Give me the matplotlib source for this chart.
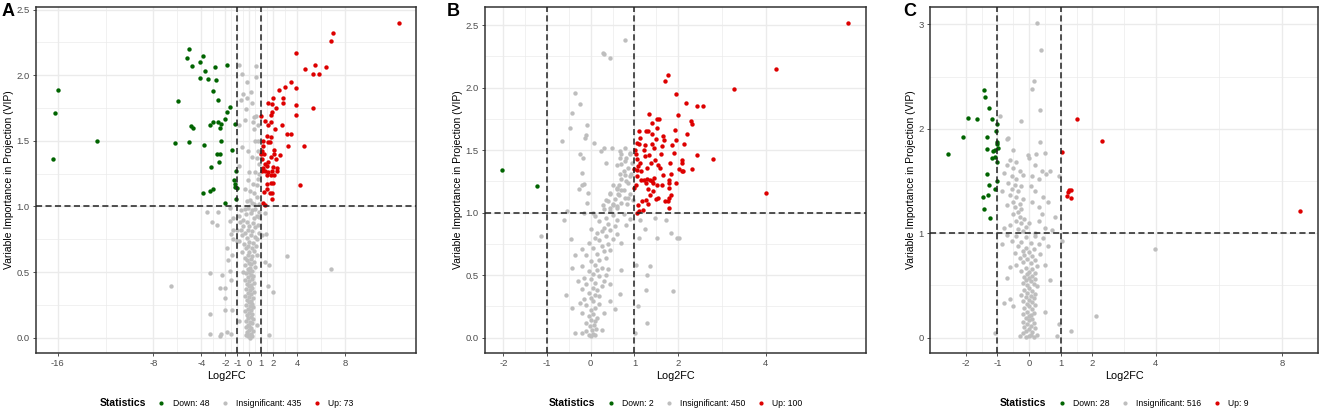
import matplotlib
matplotlib.use("Agg")
import matplotlib.pyplot as plt
from matplotlib.lines import Line2D
import numpy as np

plt.rcParams['font.family'] = ['Liberation Sans', 'DejaVu Sans']

# ---------------- data (Log2FC, VIP) ----------------
a_down = [(-16.0, 1.89), (-16.25, 1.71), (-16.4, 1.36), (-12.67, 1.50), (-5.06, 2.20), (-5.22, 2.13),
          (-3.83, 2.15), (-4.8, 2.07), (-4.14, 2.10), (-3.67, 2.03), (-2.89, 2.06), (-1.83, 2.08),
          (-4.08, 1.98), (-3.42, 1.97), (-2.78, 1.96), (-3.06, 1.88), (-5.92, 1.80), (-2.64, 1.81),
          (-1.61, 1.76), (-1.83, 1.72), (-2.03, 1.67), (-1.17, 1.63), (-4.86, 1.61), (-4.69, 1.60),
          (-3.28, 1.62), (-3.0, 1.64), (-2.64, 1.64), (-2.39, 1.63), (-2.42, 1.60), (-6.17, 1.48),
          (-5.03, 1.49), (-3.81, 1.47), (-2.39, 1.50), (-1.42, 1.43), (-2.69, 1.40), (-2.44, 1.40),
          (-2.5, 1.34), (-3.19, 1.30), (-1.11, 1.27), (-1.31, 1.20), (-1.19, 1.17), (-1.17, 1.15),
          (-1.06, 1.14), (-3.0, 1.13), (-3.31, 1.12), (-3.86, 1.10), (-1.11, 1.06), (-2.0, 1.03)]
a_up = [(12.47, 2.40), (7.0, 2.32), (6.83, 2.26), (3.92, 2.17), (5.44, 2.08), (4.61, 2.05), (6.36, 2.06),
        (5.33, 2.01), (5.83, 2.01), (3.5, 1.95), (2.97, 1.91), (2.44, 1.89), (3.86, 1.90), (2.0, 1.83),
        (2.81, 1.83), (2.78, 1.79), (1.58, 1.79), (1.86, 1.78), (2.25, 1.75), (3.92, 1.77), (5.33, 1.75),
        (1.89, 1.72), (1.78, 1.70), (1.0, 1.69), (3.89, 1.70), (1.33, 1.65), (1.83, 1.64), (1.56, 1.62),
        (2.69, 1.62), (2.11, 1.59), (1.5, 1.54), (1.83, 1.53), (1.17, 1.50), (3.17, 1.55), (3.5, 1.55),
        (1.53, 1.49), (1.75, 1.49), (1.17, 1.46), (3.22, 1.46), (4.53, 1.46), (1.08, 1.42), (2.06, 1.43),
        (1.0, 1.40), (1.25, 1.40), (2.08, 1.40), (1.81, 1.38), (2.56, 1.39), (1.08, 1.36), (2.22, 1.36),
        (1.58, 1.34), (1.28, 1.32), (1.44, 1.31), (1.11, 1.29), (1.94, 1.30), (2.28, 1.29), (2.28, 1.27),
        (1.06, 1.27), (1.33, 1.27), (1.56, 1.26), (1.86, 1.27), (1.5, 1.24), (1.83, 1.24), (2.08, 1.24),
        (1.47, 1.17), (1.81, 1.18), (2.0, 1.18), (4.19, 1.16), (1.22, 1.11), (1.47, 1.13), (1.75, 1.10),
        (1.89, 1.10), (1.92, 1.06), (1.14, 1.03), (1.33, 1.01)]
a_grey = [(-0.83, 2.08), (0.58, 2.07), (-0.64, 2.01), (0.53, 1.99), (-0.22, 1.95), (0.11, 1.87),
          (-0.5, 1.86), (-0.17, 1.83), (-0.72, 1.81), (0.19, 1.79), (-0.28, 1.74), (0.39, 1.68),
          (0.56, 1.69), (-0.36, 1.66), (-0.83, 1.62), (0.28, 1.64), (0.69, 1.62), (0.39, 1.59),
          (0.47, 1.50), (0.72, 1.50), (-0.58, 1.45), (-0.08, 1.42), (0.75, 1.42), (0.22, 1.38),
          (0.61, 1.37), (0.81, 1.32), (-0.83, 1.31), (-0.06, 1.26), (0.47, 1.26), (0.83, 1.25),
          (0.72, 1.21), (-0.11, 1.20), (0.33, 1.17), (0.61, 1.16), (-0.36, 1.13), (0.06, 1.12),
          (0.42, 1.10), (0.61, 1.07), (0.06, 1.05), (-0.22, 1.04), (0.19, 1.03), (0.39, 1.02), (0.78, 1.02),
          (-3.56, 0.96), (-2.58, 0.96), (-3.11, 0.88), (-2.67, 0.86), (-1.58, 0.99), (-6.53, 0.39),
          (-3.28, 0.49), (-2.31, 0.48), (-2.44, 0.38), (-2.03, 0.38), (-2.0, 0.30), (-3.25, 0.18),
          (-2.06, 0.21), (-1.47, 0.21), (-3.28, 0.03), (-2.44, 0.01), (-2.33, 0.03), (-1.86, 0.04),
          (-1.56, 0.03), (3.11, 0.62), (6.81, 0.52), (1.61, 0.55), (1.31, 0.58), (1.53, 0.39), (1.97, 0.35),
          (1.61, 0.02), (0.67, 0.10), (-1.47, 0.63), (-1.81, 0.59), (-1.61, 0.51), (-1.53, 0.44),
          (-1.33, 0.82), (-1.53, 0.79), (-1.0, 0.74), (-1.33, 0.75), (-1.89, 0.68), (-1.33, 0.91),
          (-1.61, 0.89), (-1.0, 0.82), (0.83, 0.92), (1.03, 0.78), (1.31, 0.95), (1.42, 0.79), (-0.89, 0.13),
          (-0.7, 0.97), (-0.4, 0.98), (-0.1, 0.99), (0.2, 0.97), (0.5, 0.98), (0.8, 0.96), (-0.9, 0.93),
          (-0.3, 0.94), (0.1, 0.95), (0.6, 0.93), (0.35, 0.91), (-0.55, 0.9), (-0.8, 0.88), (-0.2, 0.88),
          (0.3, 0.87), (0.7, 0.86), (-0.5, 0.85), (0.0, 0.85), (0.5, 0.84), (-0.7, 0.82), (-0.1, 0.82),
          (0.2, 0.81), (0.8, 0.8), (-0.35, 0.8), (-0.6, 0.78), (0.1, 0.78), (0.45, 0.77), (-0.2, 0.76),
          (0.65, 0.75), (-0.85, 0.74), (0.0, 0.73), (0.3, 0.72), (-0.45, 0.71), (0.55, 0.7), (-0.1, 0.7),
          (-0.3, 0.68), (0.2, 0.68), (0.4, 0.66), (-0.6, 0.65), (0.0, 0.65), (-0.15, 0.63), (0.6, 0.63),
          (0.25, 0.62), (-0.4, 0.61), (0.1, 0.6), (-0.2, 0.59), (0.35, 0.58), (-0.05, 0.57), (0.15, 0.56),
          (-0.35, 0.55), (0.5, 0.54), (0.05, 0.53), (-0.15, 0.52), (0.25, 0.51), (-0.5, 0.5), (0.0, 0.5),
          (-0.25, 0.49), (0.1, 0.48), (0.3, 0.47), (-0.1, 0.46), (0.2, 0.45), (-0.35, 0.44), (0.0, 0.43),
          (0.4, 0.42), (-0.2, 0.41), (0.15, 0.4), (-0.05, 0.39), (0.25, 0.38), (-0.3, 0.37), (0.05, 0.36),
          (0.35, 0.35), (-0.15, 0.34), (0.15, 0.33), (-0.4, 0.32), (0.0, 0.31), (0.3, 0.3), (-0.2, 0.29),
          (0.1, 0.28), (-0.05, 0.27), (0.2, 0.26), (-0.3, 0.25), (0.05, 0.24), (0.3, 0.23), (-0.15, 0.22),
          (0.15, 0.21), (-0.35, 0.2), (0.0, 0.19), (0.25, 0.18), (-0.2, 0.17), (0.1, 0.16), (-0.1, 0.15),
          (0.3, 0.14), (-0.3, 0.13), (0.05, 0.12), (0.2, 0.11), (-0.15, 0.1), (0.0, 0.09), (-0.25, 0.08),
          (0.15, 0.07), (-0.05, 0.06), (0.3, 0.05), (-0.2, 0.04), (0.1, 0.03), (0.0, 0.02), (-0.1, 0.01),
          (0.2, 0.01), (-0.3, 0.02), (0.05, 0.0)]

b_down = [(-2.02, 1.34), (-1.24, 1.21)]
b_up = [(5.89, 2.52), (4.24, 2.15), (3.29, 1.99), (4.02, 1.16), (1.76, 2.10), (1.71, 2.05), (1.96, 1.95),
        (2.19, 1.88), (2.44, 1.85), (2.57, 1.85), (1.99, 1.78), (1.34, 1.79), (1.52, 1.75), (1.57, 1.75),
        (1.40, 1.72), (2.29, 1.73), (2.31, 1.71), (1.11, 1.65), (1.27, 1.65), (1.31, 1.65), (1.51, 1.68),
        (1.93, 1.66), (1.40, 1.63), (1.13, 1.60), (1.66, 1.61), (1.50, 1.59), (1.67, 1.58), (1.96, 1.58),
        (2.20, 1.63), (1.07, 1.56), (1.11, 1.55), (1.24, 1.54), (1.41, 1.55), (1.63, 1.53), (1.87, 1.54),
        (2.13, 1.55), (1.01, 1.50), (1.21, 1.50), (1.34, 1.46), (1.60, 1.47), (2.44, 1.46), (2.79, 1.43),
        (1.06, 1.43), (1.13, 1.40), (1.38, 1.40), (1.48, 1.42), (1.81, 1.40), (2.09, 1.42), (2.08, 1.40),
        (1.08, 1.37), (1.29, 1.36), (1.0, 1.35), (1.58, 1.36), (2.02, 1.35), (2.08, 1.33), (2.12, 1.33),
        (2.31, 1.35), (1.07, 1.34), (1.84, 1.31), (1.05, 1.29), (1.14, 1.26), (1.21, 1.26), (1.29, 1.27),
        (1.35, 1.26), (1.45, 1.28), (1.27, 1.24), (1.40, 1.25), (1.52, 1.22), (1.42, 1.24), (1.62, 1.22),
        (1.79, 1.26), (1.79, 1.24), (1.95, 1.24), (1.0, 1.20), (1.32, 1.19), (1.80, 1.20), (1.42, 1.17),
        (1.84, 1.14), (1.79, 1.12), (1.53, 1.12), (1.50, 1.11), (1.18, 1.09), (1.27, 1.10), (1.31, 1.07),
        (1.09, 1.06), (1.69, 1.09), (1.76, 1.09), (1.78, 1.04), (1.11, 1.01), (1.07, 1.00), (1.2, 1.02),
        (1.03, 1.47), (1.16, 1.33), (1.45, 1.52), (1.65, 1.30), (1.25, 1.45), (1.55, 1.38), (1.04, 1.22),
        (1.9, 1.48), (1.36, 1.14)]
b_grey = [(0.79, 2.38), (0.28, 2.28), (0.31, 2.27), (0.44, 2.24), (-0.37, 1.96), (-0.24, 1.87), (-0.42, 1.80),
          (-0.47, 1.68), (-0.09, 1.70), (-0.11, 1.62), (-0.13, 1.60), (-0.65, 1.57), (0.08, 1.56),
          (-0.24, 1.47), (-0.18, 1.44), (0.24, 1.49), (0.31, 1.52), (0.49, 1.52), (0.79, 1.52), (0.67, 1.49),
          (0.66, 1.44), (0.36, 1.40), (0.59, 1.38), (0.70, 1.39), (0.78, 1.41), (0.91, 1.47), (-0.21, 1.32),
          (-0.15, 1.23), (-0.19, 1.22), (-0.27, 1.19), (-0.06, 1.16), (-0.09, 1.08), (0.66, 1.31),
          (0.79, 1.30), (0.93, 1.31), (0.86, 1.24), (0.51, 1.22), (0.59, 1.20), (0.70, 1.18), (0.44, 1.15),
          (0.63, 1.15), (0.78, 1.12), (0.36, 1.10), (0.51, 1.07), (0.27, 1.06), (0.44, 1.04), (0.59, 1.05),
          (0.82, 1.07), (0.89, 1.15), (0.97, 1.10), (-0.54, 1.01), (-0.62, 0.94), (-0.16, 1.00), (0.05, 1.00),
          (-1.14, 0.81), (-0.46, 0.79), (-0.37, 0.66), (-0.42, 0.56), (-0.56, 0.34), (-0.44, 0.24),
          (-0.37, 0.04), (1.12, 0.94), (1.24, 0.87), (1.47, 0.96), (1.72, 0.94), (1.83, 0.84), (1.98, 0.80),
          (2.01, 0.80), (1.11, 0.80), (1.52, 0.80), (1.35, 0.57), (1.03, 0.58), (1.28, 0.50), (1.26, 0.38),
          (1.89, 0.37), (1.08, 0.25), (1.29, 0.12), (1.01, 0.04), (0.70, 0.54), (0.66, 0.35), (0.56, 0.23),
          (0.44, 0.29),
          (-0.05, 0.02), (0.0, 0.01), (0.05, 0.03), (0.1, 0.02), (-0.1, 0.05), (0.02, 0.06), (0.12, 0.07),
          (-0.02, 0.09), (0.08, 0.1), (0.25, 0.06), (-0.2, 0.04), (-0.1, 0.12), (0.0, 0.14), (0.1, 0.13),
          (-0.05, 0.17), (0.05, 0.19), (0.15, 0.16), (-0.2, 0.2), (0.0, 0.22), (0.1, 0.24), (-0.1, 0.26),
          (0.2, 0.27), (0.05, 0.29), (-0.25, 0.28), (0.3, 0.2), (-0.15, 0.31), (0.0, 0.32), (0.1, 0.34),
          (0.2, 0.33), (-0.05, 0.36), (0.15, 0.38), (-0.2, 0.39), (0.05, 0.4), (0.25, 0.41), (-0.1, 0.43),
          (0.1, 0.44), (0.3, 0.45), (0.0, 0.47), (-0.15, 0.48), (0.2, 0.49), (0.35, 0.5), (0.05, 0.51),
          (-0.05, 0.53), (0.15, 0.54), (0.25, 0.56), (-0.2, 0.57), (0.1, 0.58), (0.4, 0.55), (-0.3, 0.45),
          (0.45, 0.43), (0.0, 0.61), (0.2, 0.62), (0.35, 0.64), (-0.1, 0.66), (0.15, 0.67), (0.3, 0.69),
          (0.45, 0.7), (0.05, 0.72), (0.25, 0.73), (0.4, 0.75), (-0.05, 0.76), (0.2, 0.78), (0.5, 0.79),
          (0.1, 0.8), (0.35, 0.81), (0.6, 0.83), (0.25, 0.85), (0.45, 0.86), (0.0, 0.87), (0.3, 0.88),
          (0.55, 0.89), (0.15, 0.84), (0.7, 0.76), (-0.2, 0.71), (0.4, 0.91), (0.2, 0.93), (0.6, 0.94),
          (0.35, 0.96), (0.5, 0.98), (0.1, 0.97), (0.75, 0.99), (0.45, 1.01), (0.3, 1.03), (0.6, 1.04),
          (0.5, 1.06), (0.7, 1.08), (0.4, 1.09), (0.55, 1.11), (0.85, 1.12), (0.65, 1.14), (0.45, 1.16),
          (0.75, 1.18), (0.6, 1.19), (0.9, 0.95), (0.8, 0.9), (0.65, 1.22), (0.8, 1.25), (0.7, 1.27),
          (0.9, 1.29), (0.75, 1.33), (0.85, 1.36), (0.95, 1.4), (0.8, 1.44), (0.9, 1.48), (0.7, 1.47)]

c_down = [(-2.57, 1.76), (-2.08, 1.92), (-1.94, 2.10), (-1.64, 2.09), (-1.42, 2.37), (-1.39, 2.30),
          (-1.27, 2.20), (-1.16, 2.09), (-1.02, 2.05), (-1.03, 1.98), (-1.34, 1.92), (-1.33, 1.81),
          (-1.15, 1.79), (-1.08, 1.80), (-1.01, 1.85), (-0.99, 1.82), (-1.17, 1.72), (-1.08, 1.73),
          (-1.01, 1.68), (-1.33, 1.57), (-1.02, 1.50), (-1.26, 1.46), (-1.07, 1.42), (-1.29, 1.37),
          (-1.45, 1.35), (-1.42, 1.23), (-1.24, 1.15), (-1.0, 1.87)]
c_up = [(1.52, 2.09), (2.32, 1.88), (1.05, 1.78), (1.22, 1.39), (1.25, 1.41), (1.34, 1.41), (1.19, 1.36),
        (1.33, 1.34), (8.55, 1.21)]
c_grey = [(0.25, 3.01), (0.37, 2.75), (0.15, 2.46), (0.09, 2.38), (0.36, 2.18), (-0.27, 2.07), (-0.92, 2.12),
          (-0.66, 1.91), (-0.71, 1.90), (-0.51, 1.80), (0.34, 1.87), (0.51, 1.77), (0.23, 1.76), (-0.03, 1.75),
          (3.97, 0.85), (2.10, 0.21), (1.32, 0.06), (-1.08, 0.04), (0.87, 0.02), (0.96, 0.13), (1.05, 0.93),
          (0.71, 1.03), (0.81, 1.16), (0.94, 1.55), (0.67, 1.60), (0.55, 1.57),
          (-0.6, 1.7), (-0.4, 1.68), (-0.7, 1.65), (-0.5, 1.62), (-0.3, 1.6), (-0.8, 1.58), (-0.55, 1.55),
          (-0.2, 1.56), (0.0, 1.72), (0.2, 1.65), (0.4, 1.6), (0.3, 1.52), (-0.4, 1.52), (0.1, 1.55),
          (-0.65, 1.48), (-0.45, 1.46), (-0.25, 1.45), (-0.55, 1.42), (-0.35, 1.4), (-0.6, 1.37), (-0.4, 1.35),
          (-0.2, 1.33), (-0.5, 1.3), (-0.3, 1.28), (-0.7, 1.27), (-0.45, 1.25), (-0.25, 1.23), (-0.35, 1.2),
          (0.05, 1.45), (0.2, 1.4), (0.45, 1.35), (0.3, 1.25), (0.6, 1.3), (-0.85, 1.4), (0.1, 1.3),
          (-0.5, 1.18), (-0.3, 1.16), (-0.15, 1.14), (-0.4, 1.12), (-0.25, 1.1), (-0.6, 1.08), (-0.1, 1.06),
          (-0.35, 1.04), (-0.2, 1.02), (0.0, 1.1), (0.3, 1.12), (0.5, 1.05), (0.2, 1.0), (-0.8, 1.05),
          (0.4, 1.18), (-0.7, 0.98), (-0.4, 0.97), (-0.1, 0.96), (0.2, 0.97), (0.45, 0.95), (-0.55, 0.93),
          (-0.25, 0.92), (0.05, 0.91), (0.3, 0.9), (-0.85, 0.9), (-0.35, 0.88), (-0.1, 0.86), (0.15, 0.85),
          (-0.2, 0.83), (0.0, 0.82), (-0.45, 0.81), (0.35, 0.8), (0.6, 0.88), (-0.15, 0.79), (0.1, 0.78),
          (-0.3, 0.76), (-0.05, 0.75), (0.2, 0.74), (-0.2, 0.72), (0.05, 0.71), (-0.4, 0.7), (0.25, 0.69),
          (-0.1, 0.67), (0.1, 0.66), (-0.25, 0.64), (0.0, 0.63), (0.2, 0.62), (-0.05, 0.61), (-0.6, 0.68),
          (0.5, 0.7), (0.1, 0.59), (-0.15, 0.58), (0.0, 0.57), (0.2, 0.56), (-0.1, 0.55), (0.05, 0.54),
          (-0.2, 0.52), (0.15, 0.51), (-0.05, 0.5), (0.25, 0.49), (0.0, 0.48), (-0.15, 0.46), (0.1, 0.45),
          (-0.05, 0.43), (0.2, 0.42), (-0.25, 0.41), (0.05, 0.4), (0.65, 0.55), (-0.7, 0.57), (-0.1, 0.39),
          (0.15, 0.38), (0.0, 0.36), (-0.2, 0.35), (0.1, 0.34), (-0.05, 0.32), (0.2, 0.31), (0.0, 0.3),
          (-0.15, 0.28), (0.1, 0.27), (-0.05, 0.25), (0.15, 0.24), (-0.2, 0.23), (0.05, 0.22), (0.0, 0.21),
          (-0.5, 0.3), (0.5, 0.25), (-0.6, 0.37), (-0.8, 0.33), (-0.1, 0.19), (0.1, 0.18), (0.0, 0.17),
          (-0.2, 0.15), (0.15, 0.14), (-0.05, 0.13), (0.05, 0.11), (-0.15, 0.1), (0.2, 0.09), (0.0, 0.08),
          (-0.1, 0.06), (0.1, 0.05), (-0.2, 0.04), (0.05, 0.03), (0.0, 0.02), (-0.1, 0.01), (0.15, 0.01),
          (0.25, 0.03), (-0.3, 0.02)]

panels = ['A', 'B', 'C']
counts = {'A': (48, 435, 73), 'B': (2, 450, 100), 'C': (28, 516, 9)}
x_breaks = {'A': [-16, -8, -4, -2, -1, 0, 1, 2, 4, 8],
            'B': [-2, -1, 0, 1, 2, 4],
            'C': [-2, -1, 0, 1, 2, 4, 8]}
y_breaks = {'A': [0, 0.5, 1.0, 1.5, 2.0, 2.5],
            'B': [0, 0.5, 1.0, 1.5, 2.0, 2.5],
            'C': [0, 1, 2, 3]}
y_fmt = {'A': '{:.1f}', 'B': '{:.1f}', 'C': '{:.0f}'}
series = {'A': (a_down, a_grey, a_up), 'B': (b_down, b_grey, b_up), 'C': (c_down, c_grey, c_up)}

# layout bits
limits = {'A': ((-17.8, 13.9), (-0.117, 2.52)),
          'B': ((-2.42, 6.30), (-0.123, 2.645)),
          'C': ((-3.13, 9.13), (-0.147, 3.166))}
W, H = 1325, 413
boxes = {'A': (36, 416), 'B': (485, 866), 'C': (930, 1318)}
label_x = {'A': 2, 'B': 447, 'C': 903}
col_down, col_grey, col_up = '#006400', '#BEBEBE', '#DD0000'
grid_col = '#EBEBEB'

fig = plt.figure(figsize=(W / 100, H / 100), dpi=100)

for p in panels:
    l, r = boxes[p]
    ax = fig.add_axes([l / W, 1 - 353 / H, (r - l) / W, 346 / H])
    (x0, x1), (y0, y1) = limits[p]

    xb = x_breaks[p]
    yb = y_breaks[p]
    xminor = [(xb[i] + xb[i + 1]) / 2 for i in range(len(xb) - 1)]
    yminor = [(yb[i] + yb[i + 1]) / 2 for i in range(len(yb) - 1)]
    for v in xminor:
        ax.axvline(v, color=grid_col, lw=0.5, zorder=0)
    for v in yminor:
        ax.axhline(v, color=grid_col, lw=0.5, zorder=0)
    for v in xb:
        ax.axvline(v, color=grid_col, lw=1.0, zorder=0)
    for v in yb:
        ax.axhline(v, color=grid_col, lw=1.0, zorder=0)

    down, grey, up = series[p]
    for pts, c in ((grey, col_grey), (down, col_down), (up, col_up)):
        arr = np.array(pts)
        ax.scatter(arr[:, 0], arr[:, 1], s=10, color=c, linewidths=0, zorder=2)

    for v in (-1, 1):
        ax.axvline(v, color='#222222', lw=1.1, ls=(0, (4, 2.2)), zorder=3)
    ax.axhline(1, color='#222222', lw=1.1, ls=(0, (4, 2.2)), zorder=3)

    ax.set_xlim(x0, x1)
    ax.set_ylim(y0, y1)
    ax.set_xticks(xb)
    ax.set_xticklabels([str(v) for v in xb])
    ax.set_yticks(yb)
    ax.set_yticklabels([y_fmt[p].format(v) for v in yb])
    ax.tick_params(length=2.5, width=0.6, color='#333333', labelsize=6.8,
                   labelcolor='#4D4D4D', pad=2)
    for s in ax.spines.values():
        s.set_color('#333333')
        s.set_linewidth(1.1)
    ax.set_xlabel('Log2FC', fontsize=7.8, labelpad=2)
    ax.set_ylabel('Variable Importance in Projection (VIP)', fontsize=7.5, labelpad=1.5)

    fig.text(label_x[p] / W, 1 - 3 / H, p, fontsize=13, fontweight='bold', va='top', ha='left')

    nd, ng, nu = counts[p]
    handles = [Line2D([], [], linestyle='none'),
               Line2D([], [], marker='o', linestyle='none', color=col_down, markersize=2.0),
               Line2D([], [], marker='o', linestyle='none', color=col_grey, markersize=2.0),
               Line2D([], [], marker='o', linestyle='none', color=col_up, markersize=2.0)]
    labels = ['Statistics', f'Down: {nd}', f'Insignificant: {ng}', f'Up: {nu}']
    leg = ax.legend(handles, labels, ncol=4, frameon=False, loc='center',
                    bbox_to_anchor=(((l + r) / 2 - 7) / W, 1 - 403 / H), bbox_transform=fig.transFigure,
                    fontsize=6.2, handlelength=0.8, handletextpad=0.9, columnspacing=1.4,
                    borderaxespad=0)
    t0 = leg.get_texts()[0]
    t0.set_fontweight('bold')
    t0.set_fontsize(7.5)

fig.savefig('out.png', dpi=100)
